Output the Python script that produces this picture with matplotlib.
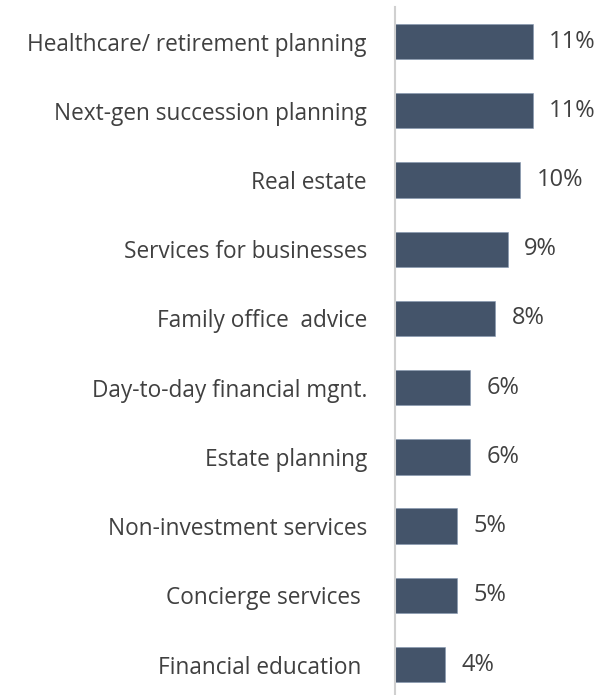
import matplotlib.pyplot as plt

# ===== Data =====
services = [
    "Healthcare/ retirement planning",
    "Next-gen succession planning",
    "Real estate",
    "Services for businesses",
    "Family office  advice",
    "Day-to-day financial mgnt.",
    "Estate planning",
    "Non-investment services",
    "Concierge services ",
    "Financial education ",
]
shares = [11, 11, 10, 9, 8, 6, 6, 5, 5, 4]

BAR_COLOR = "#44546A"
TEXT_COLOR = "#404040"

fig = plt.figure(figsize=(6.02, 6.95), dpi=100)
ax = fig.add_axes([394.7 / 602, 0.0, 200.8 / 602, 1 - 7 / 695])

pos = list(range(len(services)))
ax.barh(pos, shares, height=0.51, color=BAR_COLOR,
        edgecolor="#8496B0", linewidth=0.4)

for y, v in zip(pos, shares):
    ax.text(v + 1.3, y, f"{v}%", va="center", ha="left",
            fontsize=17, color=TEXT_COLOR, family="Open Sans")

ax.set_xlim(0, 16)
ax.set_ylim(9.44, -0.5)
ax.set_yticks(pos)
ax.set_yticklabels(services, fontsize=16.3, color=TEXT_COLOR, family="Open Sans")
ax.tick_params(axis="y", length=0, pad=20)
ax.set_xticks([])

for side in ["top", "right", "bottom"]:
    ax.spines[side].set_visible(False)
ax.spines["left"].set_color("#D0D0D0")
ax.spines["left"].set_linewidth(1.5)

plt.savefig("out.png", dpi=100)
